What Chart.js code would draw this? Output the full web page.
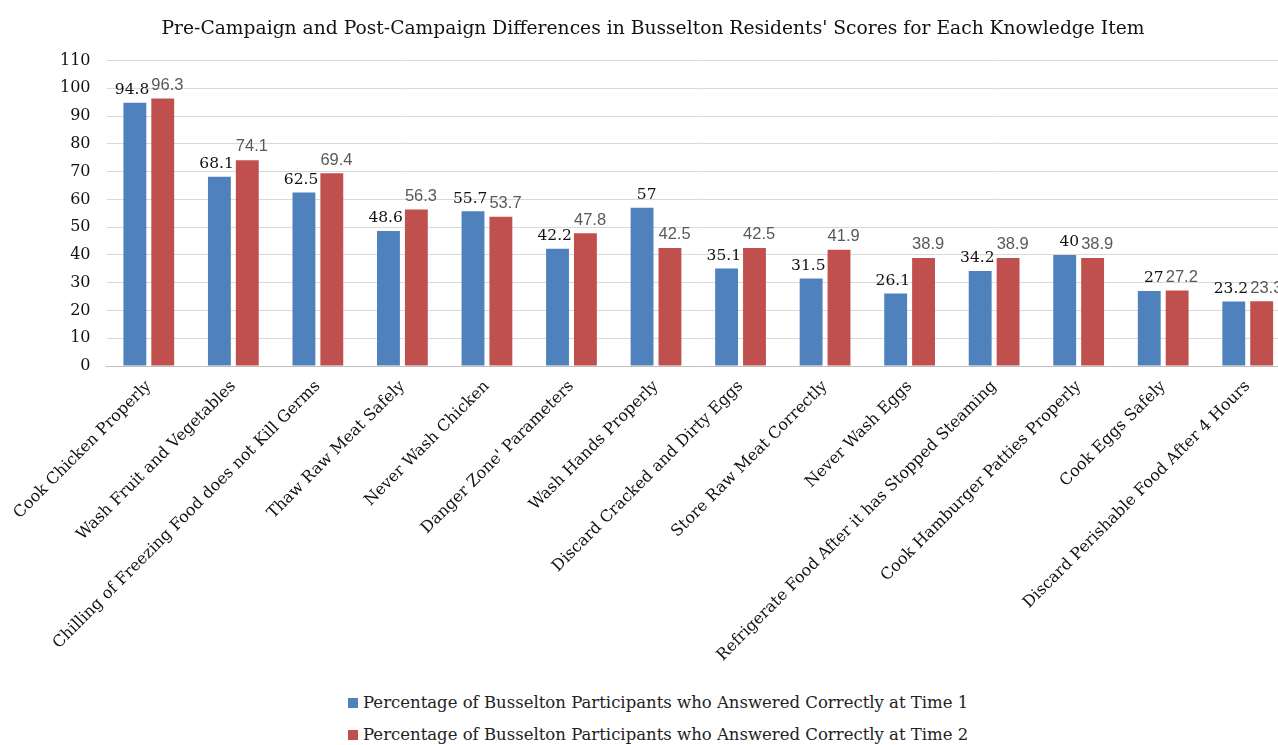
<!DOCTYPE html>
<html>
<head>
<meta charset="utf-8">
<script src="https://cdn.jsdelivr.net/npm/chart.js@4/dist/chart.umd.min.js"></script>
<style>
  body { margin: 0; background: #fff; overflow: hidden; }
  #wrap { width: 1290px; height: 668px; }
  #legend { font-family: "DejaVu Serif", serif; font-size: 16.5px; color: #222; margin-left: 348px; margin-top: 19px; }
  #legend div { height: 32px; line-height: 32px; }
  #legend span { display: inline-block; width: 10px; height: 10px; margin-right: 5px; }
</style>
</head>
<body>
<div id="wrap"><canvas id="bars"></canvas></div>
<div id="legend"></div>
<script>
const categories = [
  'Cook Chicken Properly',
  'Wash Fruit and Vegetables',
  'Chilling of Freezing Food does not Kill Germs',
  'Thaw Raw Meat Safely',
  'Never Wash Chicken',
  "Danger Zone' Parameters",
  'Wash Hands Properly',
  'Discard Cracked and Dirty Eggs',
  'Store Raw Meat Correctly',
  'Never Wash Eggs',
  'Refrigerate Food After it has Stopped Steaming',
  'Cook Hamburger Patties Properly',
  'Cook Eggs Safely',
  'Discard Perishable Food After 4 Hours'
]
const time1 = [94.8, 68.1, 62.5, 48.6, 55.7, 42.2, 57, 35.1, 31.5, 26.1, 34.2, 40, 27, 23.2]
const time2 = [96.3, 74.1, 69.4, 56.3, 53.7, 47.8, 42.5, 42.5, 41.9, 38.9, 38.9, 38.9, 27.2, 23.3]
const seriesNames = [
  'Percentage of Busselton Participants who Answered Correctly at Time 1',
  'Percentage of Busselton Participants who Answered Correctly at Time 2'
]
const colors = ['#4F81BD', '#C0504D']

// value labels on top of the bars
const barLabels = {
  id: 'barLabels',
  afterDatasetsDraw(chart) {
    const ctx = chart.ctx
    ctx.save()
    ctx.textBaseline = 'bottom'
    chart.data.datasets.forEach((ds, i) => {
      chart.getDatasetMeta(i).data.forEach((bar, j) => {
        if (i === 0) {
          ctx.font = '15.5px "DejaVu Serif", serif'
          ctx.fillStyle = '#111'
          ctx.textAlign = 'right'
          ctx.fillText(ds.data[j], bar.x + bar.width / 2 + 3, bar.y - 5)
        } else {
          ctx.font = '16.5px "Liberation Sans", sans-serif'
          ctx.fillStyle = '#595959'
          ctx.textAlign = 'left'
          ctx.fillText(ds.data[j], bar.x - bar.width / 2, bar.y - 5)
        }
      })
    })
    ctx.restore()
  }
}

new Chart(document.getElementById('bars'), {
  type: 'bar',
  data: {
    labels: categories,
    datasets: [
      { label: seriesNames[0], data: time1, backgroundColor: colors[0], barPercentage: 0.82, categoryPercentage: 0.66 },
      { label: seriesNames[1], data: time2, backgroundColor: colors[1], barPercentage: 0.82, categoryPercentage: 0.66 }
    ]
  },
  options: {
    responsive: true,
    maintainAspectRatio: false,
    animation: false,
    layout: { padding: { left: 16, right: 0, top: 4 } },
    plugins: {
      legend: { display: false },
      tooltip: { enabled: false },
      title: {
        display: true,
        text: "Pre-Campaign and Post-Campaign Differences in Busselton Residents' Scores for Each Knowledge Item",
        font: { family: '"DejaVu Serif", serif', size: 18.7, weight: 'normal' },
        color: '#111',
        padding: { top: 14, bottom: 20 }
      }
    },
    scales: {
      x: {
        grid: { display: false },
        border: { color: '#bfbfbf' },
        ticks: {
          color: '#111',
          font: { family: '"DejaVu Serif", serif', size: 16 },
          minRotation: 45,
          maxRotation: 45,
          autoSkip: false
        }
      },
      y: {
        min: 0,
        max: 110,
        grid: { color: '#d9d9d9', drawTicks: false },
        border: { display: false },
        afterFit(scale) { scale.width += 28 },
        ticks: {
          stepSize: 10,
          color: '#111',
          padding: 16,
          font: { family: '"DejaVu Serif", serif', size: 16 }
        }
      }
    }
  },
  plugins: [barLabels]
})

const legend = document.getElementById('legend')
seriesNames.forEach((name, i) => {
  const row = document.createElement('div')
  row.innerHTML = '<span style="background:' + colors[i] + '"></span>' + name
  legend.appendChild(row)
})
</script>
</body>
</html>
